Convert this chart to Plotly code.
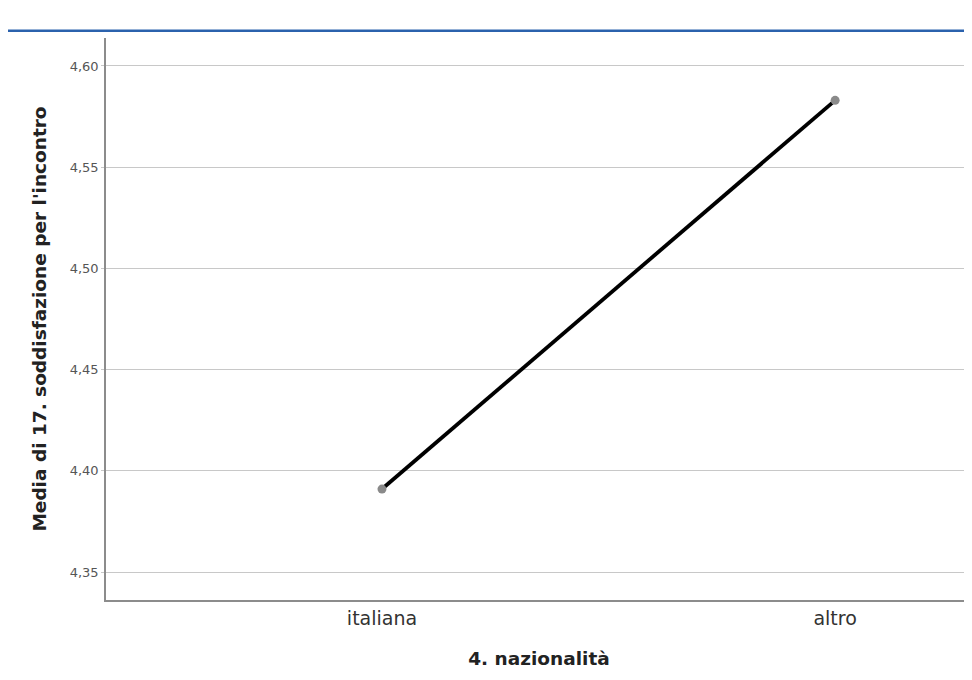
import plotly.graph_objects as go

# dati
nazionalita = ["italiana", "altro"]
media_soddisfazione = [4.391, 4.583]
tick_vals = [4.35, 4.40, 4.45, 4.50, 4.55, 4.60]

# la pagina aggiunge 8px di margine: la figura parte da (8, 8)
W, H = 964, 664
L, R, T, B = 98, 0, 30, 72
pw, ph = W - L - R, H - T - B


def px_x(q):
    return (q - L) / pw


def px_y(p):
    return (H - B - p) / ph


fig = go.Figure()
fig.add_trace(go.Scatter(
    x=nazionalita, y=media_soddisfazione,
    mode="lines+markers",
    line=dict(color="black", width=3.8),
    marker=dict(color="#8a8a8a", size=9),
    showlegend=False, cliponaxis=False,
))

# linea blu della cornice dello screenshot
blue = "#2b62ad"
shapes = [
    dict(type="rect", xref="paper", yref="paper", x0=px_x(0), x1=px_x(W), y0=px_y(24), y1=px_y(21.5),
         fillcolor=blue, line_width=0, layer="above"),
]

fig.update_layout(
    width=W, height=H,
    margin=dict(l=L, r=R, t=T, b=B),
    paper_bgcolor="white", plot_bgcolor="white",
    separators=",.",
    font=dict(family="DejaVu Sans", color="#333"),
    shapes=shapes,
    xaxis=dict(
        type="category", range=[-0.609, 1.302],
        showline=True, linecolor="#8c8c8c", linewidth=1.5,
        showgrid=False, ticks="", tickfont=dict(size=19, color="#333"),
        title=dict(text="<b>4. nazionalità</b>", font=dict(size=18.5, color="#222"), standoff=25),
    ),
    yaxis=dict(
        range=[4.3362, 4.6138], tickvals=tick_vals, tickformat=".2f",
        showline=True, linecolor="#8c8c8c", linewidth=1.5,
        showgrid=True, gridcolor="#c8c8c8", gridwidth=1,
        ticks="outside", ticklen=3, tickcolor="#c8c8c8",
        tickfont=dict(size=13, color="#555"),
        zeroline=False,
        title=dict(text="<b>Media di 17. soddisfazione per l'incontro</b>",
                   font=dict(size=18.5, color="#222"), standoff=18),
    ),
)

fig.write_html("out.html")
